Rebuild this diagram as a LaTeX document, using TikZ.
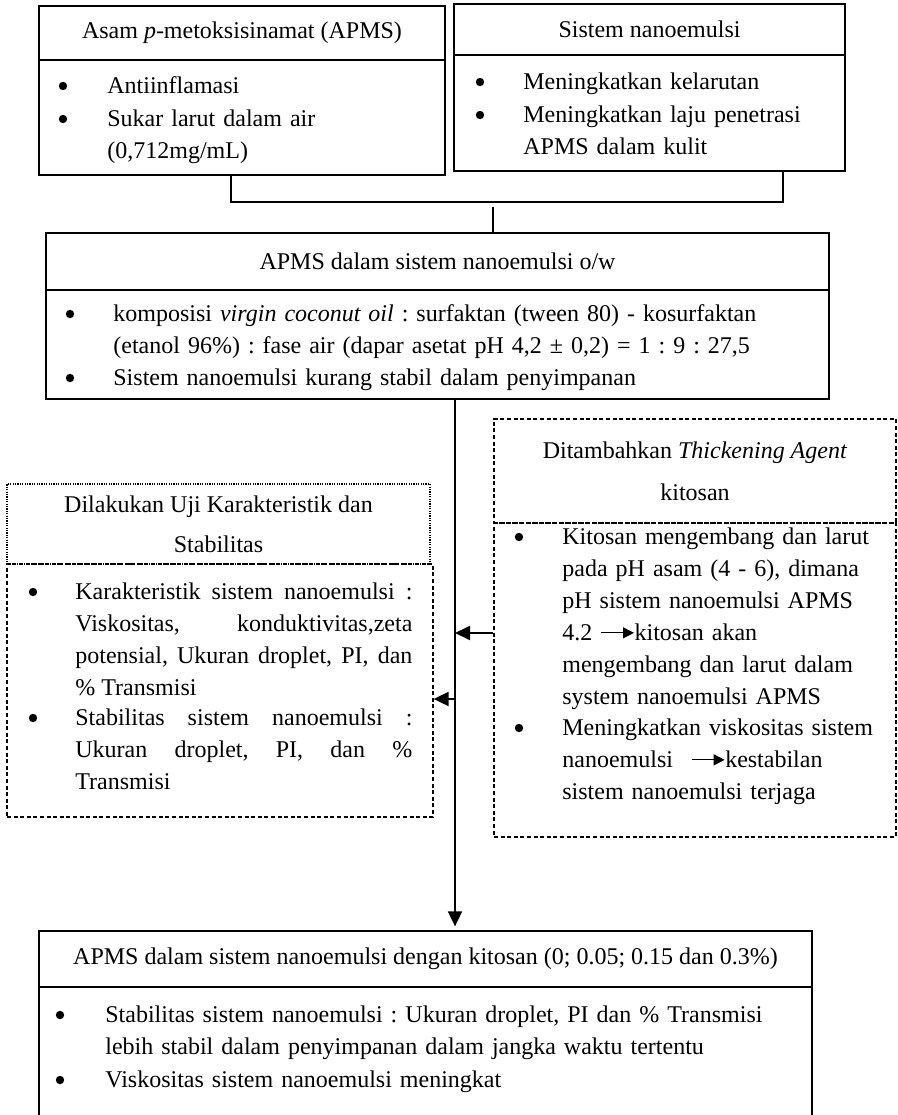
\documentclass[tikz,border=0pt]{standalone}
\usepackage{fontspec}
\setmainfont{Liberation Serif}
\usetikzlibrary{arrows.meta}

\newcommand{\tarr}{\tikz[baseline=-0.65ex]\draw[line width=0.6pt,-{Triangle[length=5.5pt,width=5.5pt]}] (0pt,0pt) -- (16.5pt,0pt);}

\begin{document}
\begin{tikzpicture}[x=0.5pt,y=-0.5pt,
  font=\fontsize{12}{16}\selectfont\frenchspacing,
  box/.style={draw, line width=0.65pt, inner sep=0pt},
  dbox/.style={box, dash pattern=on 2pt off 1.3pt},
  tbox/.style={box, dash pattern=on 0.6pt off 0.6pt},
  txt/.style={anchor=base west, inner sep=0pt, align=left, text width=#1},
  jtxt/.style={anchor=base west, inner sep=0pt, align=justify, text width=168.5pt},
  bul/.style={circle, fill, inner sep=0pt, minimum size=4.2pt},
  line/.style={line width=0.8pt},
  arr/.style={line width=0.9pt, -{Triangle[length=7.5pt,width=7pt]}}]
  \useasboundingbox (0,0) rectangle (898,1115);
  \clip (0,0) rectangle (898,1115);

  \node[box, minimum width=203pt, minimum height=27pt] (h1) at (242,33) {Asam \textit{p}-metoksisinamat (APMS)};
  \node[box, minimum width=203pt, minimum height=57.5pt] (b1) at (242,117.5) {};
  \node[box, minimum width=195.5pt, minimum height=25.5pt] (h2) at (649.5,29.5) {Sistem nanoemulsi};
  \node[box, minimum width=195.5pt, minimum height=58pt] (b2) at (649.5,113) {};
  \node[box, minimum width=391.5pt, minimum height=28.5pt] (h3) at (437.5,261.5) {APMS dalam sistem nanoemulsi o/w};
  \node[box, minimum width=391.5pt, minimum height=54.5pt] (b3) at (437.5,344.5) {};
  \node[dbox, minimum width=201pt, minimum height=52pt, align=center] (h5) at (695,471) {Ditambahkan \textit{Thickening Agent}\\[5pt] kitosan};
  \node[dbox, minimum width=201pt, minimum height=157pt] (b5) at (695,680) {};
  \node[tbox, minimum width=211.5pt, minimum height=40pt, align=center] (h6) at (218.5,524) {Dilakukan Uji Karakteristik dan\\[4pt] Stabilitas};
  \node[dbox, minimum width=213pt, minimum height=126.5pt] (b6) at (220,690.5) {};
  \node[box, minimum width=386.5pt, minimum height=28pt] (h4) at (425.5,959) {APMS dalam sistem nanoemulsi dengan kitosan (0; 0.05; 0.15 dan 0.3\%)};
  \node[box, minimum width=386.5pt, minimum height=80pt] (b4) at (425.5,1067) {};

  \node[bul] (p1) at (63,86) {};
  \node[bul] (p2) at (63,119) {};
  \node[txt=180pt] (t1) at (107,93) {Antiinflamasi};
  \node[txt=180pt] (t2) at (107,126) {Sukar larut dalam air\\(0,712mg/mL)};

  \node[bul] (p3) at (480,82) {};
  \node[bul] (p4) at (480,115) {};
  \node[txt=155pt] (t3) at (523,89) {Meningkatkan kelarutan};
  \node[txt=155pt] (t4) at (523,122) {Meningkatkan laju penetrasi\\APMS dalam kulit};

  \node[bul] (p5) at (70,314) {};
  \node[bul] (p6) at (70,378) {};
  \node[txt=360pt] (t5) at (113,321) {komposisi \textit{virgin coconut oil} : surfaktan (tween 80) - kosurfaktan\\(etanol 96\%) : fase air (dapar asetat pH 4,2 ± 0,2) = 1 : 9 : 27,5};
  \node[txt=360pt] (t6) at (113,385) {Sistem nanoemulsi kurang stabil dalam penyimpanan};

  \node[bul] (p7) at (519,537) {};
  \node[bul] (p8) at (519,728) {};
  \node[txt=165pt] (t7) at (562,544) {Kitosan mengembang dan larut\\pada pH asam (4 - 6), dimana\\pH sistem nanoemulsi APMS\\4.2 \tarr kitosan akan\\mengembang dan larut dalam\\system nanoemulsi APMS};
  \node[txt=165pt] (t8) at (562,735) {Meningkatkan viskositas sistem\\nanoemulsi\hspace{9pt}\tarr kestabilan\\sistem nanoemulsi terjaga};

  \node[bul] (p9) at (33,592) {};
  \node[bul] (p10) at (33,718) {};
  \node[jtxt] (t9) at (75,599) {Karakteristik sistem nanoemulsi :\linebreak Viskositas, konduktivitas,zeta\linebreak potensial, Ukuran droplet, PI, dan\linebreak \% Transmisi};
  \node[jtxt] (t10) at (75,725) {Stabilitas sistem nanoemulsi :\linebreak Ukuran droplet, PI, dan \%\linebreak Transmisi};

  \node[bul] (p11) at (60,1015) {};
  \node[bul] (p12) at (60,1080) {};
  \node[txt=370pt] (t11) at (105,1022) {Stabilitas sistem nanoemulsi : Ukuran droplet, PI dan \% Transmisi\\lebih stabil dalam penyimpanan dalam jangka waktu tertentu};
  \node[txt=370pt] (t12) at (105,1087) {Viskositas sistem nanoemulsi meningkat};

  \coordinate (j1) at (231,202);
  \coordinate (j2) at (783,202);
  \coordinate (j3) at (493,207);
  \coordinate (k1) at (455,633);
  \coordinate (k2) at (455,699);

  \draw[line] (b1.south -| j1) -- (j1) -- (j2) -- (b2.south -| j2);
  \draw[line] (j3) -- (h3.north -| j3);
  \draw[arr, shorten >=2pt] (b3.south -| k1) -- (h4.north -| k1);
  \draw[arr] (b5.west |- k1) -- (k1);
  \draw[arr] (k2) -- (b6.east |- k2);
\end{tikzpicture}
\end{document}
